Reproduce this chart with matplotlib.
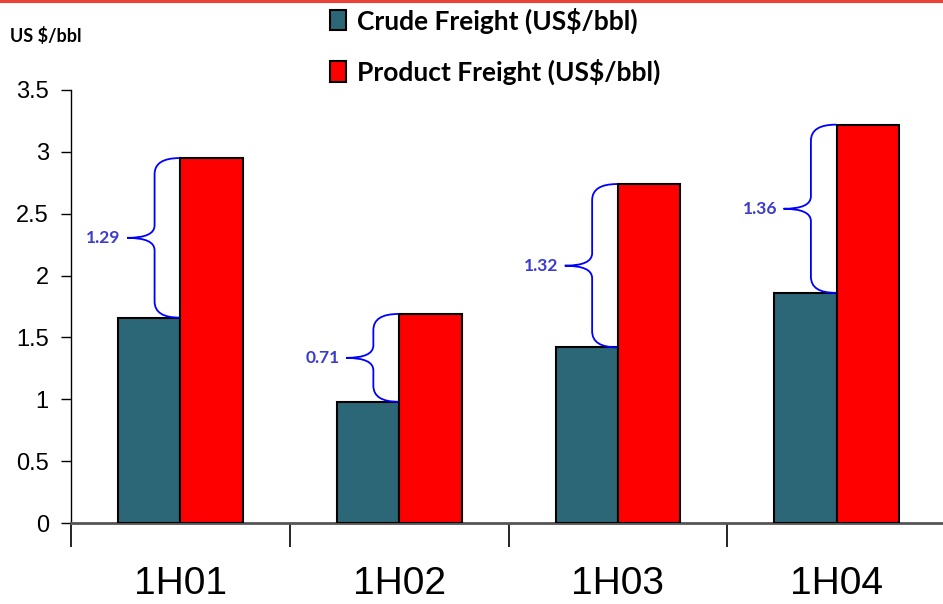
import numpy as np
import matplotlib.pyplot as plt
from matplotlib.path import Path
from matplotlib.patches import PathPatch, Patch

# data
periods = ["1H01", "1H02", "1H03", "1H04"]
crude = [1.66, 0.98, 1.42, 1.86]
product = [2.95, 1.69, 2.74, 3.22]
gap_labels = ["1.29", "0.71", "1.32", "1.36"]
yticks = [0, 0.5, 1, 1.5, 2, 2.5, 3, 3.5]

crude_color = "#2b6777"
product_color = "#ff0000"
brace_color = "#0000ff"
label_color = "#3b3bcc"

fig = plt.figure(figsize=(9.43, 6.04), dpi=100)
ax = fig.add_axes([0.0753, 0.134, 0.928, 0.717])

x = np.arange(len(periods))
w = 0.285
ax.bar(x - w, crude, width=w, align="edge", color=crude_color,
       edgecolor="black", linewidth=1.5, zorder=3)
ax.bar(x, product, width=w, align="edge", color=product_color,
       edgecolor="black", linewidth=1.5, zorder=3)


def brace(ax, xt, y0, y1, label):
    # curly brace left of the product bar, from crude top to product top
    xs = xt - 0.115
    xp = xt - 0.24
    ym = (y0 + y1) / 2
    r = 0.13
    rm = 0.1
    verts = [(xt, y1), (xs, y1), (xs, y1 - r),
             (xs, ym + rm), (xs, ym), (xp, ym),
             (xs, ym), (xs, ym - rm),
             (xs, y0 + r), (xs, y0), (xt, y0)]
    codes = [Path.MOVETO, Path.CURVE3, Path.CURVE3,
             Path.LINETO, Path.CURVE3, Path.CURVE3,
             Path.CURVE3, Path.CURVE3,
             Path.LINETO, Path.CURVE3, Path.CURVE3]
    ax.add_patch(PathPatch(Path(verts, codes), facecolor="none",
                           edgecolor=brace_color, linewidth=1.3, zorder=4))
    ax.text(xp - 0.03, ym, label, ha="right", va="center", color=label_color,
            fontsize=12.5, fontweight="bold", family="Lato")


for i in range(len(periods)):
    brace(ax, x[i] - 0.003, crude[i], product[i], gap_labels[i])

ax.set_xlim(-0.5, 3.5)
ax.set_ylim(0, 3.5)
ax.set_yticks(yticks)
ax.set_yticklabels([f"{v:g}" for v in yticks], family="Liberation Sans", fontsize=17)
ax.tick_params(axis="y", direction="out", length=7, width=1, pad=9)

ax.set_xticks(np.arange(-0.5, 3.0, 1.0))
ax.set_xticklabels([])
ax.tick_params(axis="x", which="major", direction="out", length=17, width=1.2)
ax.set_xticks(x, minor=True)
ax.set_xticklabels(periods, minor=True, family="Liberation Sans", fontsize=28)
ax.tick_params(axis="x", which="minor", length=0, pad=31)

for s in ["top", "right"]:
    ax.spines[s].set_visible(False)
ax.spines["left"].set_linewidth(1)
ax.spines["bottom"].set_linewidth(2)
ax.spines["bottom"].set_color("#555555")

handles = [Patch(facecolor=crude_color, edgecolor="black", linewidth=1.5),
           Patch(facecolor=product_color, edgecolor="black", linewidth=1.5)]
fig.legend(handles, ["Crude Freight (US$/bbl)", "Product Freight (US$/bbl)"],
           loc="upper left", bbox_to_anchor=(0.325, 1.027), frameon=False,
           prop={"family": "Lato", "weight": "bold", "size": 19},
           handlelength=0.6, handleheight=0.8, handletextpad=0.4,
           labelspacing=0.95)

fig.text(10 / 943, 1 - 36 / 604, "US $/bbl", ha="left", va="center",
         family="Lato", fontweight="bold", fontsize=13)

# red rule along the top
fig.add_artist(plt.Line2D([0, 1], [0.998, 0.998], color="#e8423a", linewidth=3))

fig.savefig("out.png", dpi=100)
